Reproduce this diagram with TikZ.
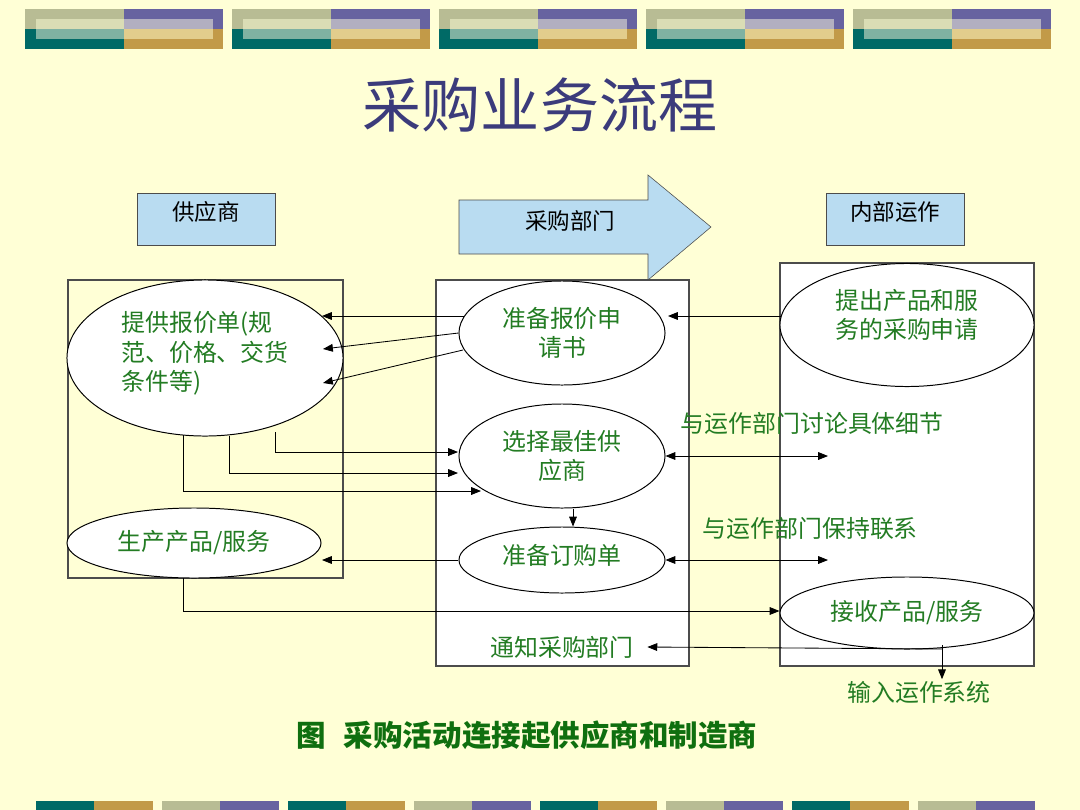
\documentclass[tikz,border=0pt]{standalone}
\usepackage{fontspec}
\setmainfont{Noto Sans CJK SC}
\usetikzlibrary{shapes.geometric,arrows.meta,calc}
\definecolor{bgyellow}{HTML}{FFFFD6}
\definecolor{headblue}{HTML}{B9DCF1}
\definecolor{txtgreen}{HTML}{237C23}
\definecolor{capgreen}{HTML}{0F6F0F}
\definecolor{titleblue}{HTML}{3B3B7B}
\definecolor{olivea}{HTML}{B8BC94}
\definecolor{oliveb}{HTML}{DADDB5}
\definecolor{purplea}{HTML}{6763A0}
\definecolor{purpleb}{HTML}{B2AFC0}
\definecolor{teala}{HTML}{006A66}
\definecolor{tealb}{HTML}{7FB2A2}
\definecolor{golda}{HTML}{C29A48}
\definecolor{goldb}{HTML}{E2CD8C}
\begin{document}
\begin{tikzpicture}[x=0.025cm, y=-0.025cm,
  head/.style={draw=black!70, fill=headblue, minimum width=3.45cm, minimum height=1.3cm, text depth=12pt, font=\fontsize{16pt}{19pt}\selectfont},
  ell/.style={ellipse, draw, line width=0.7pt, fill=white, inner sep=0pt, align=center, text=txtgreen, font=\fontsize{17pt}{21pt}\selectfont},
  note/.style={text=txtgreen, inner sep=1pt, font=\fontsize{17pt}{21pt}\selectfont},
  lane/.style={draw=black!70, line width=0.8pt},
  arr/.style={-{Triangle[length=7pt,width=5.5pt]}, line width=0.6pt},
  both/.style={{Triangle[length=7pt,width=5.5pt]}-{Triangle[length=7pt,width=5.5pt]}, line width=0.6pt}
]
  \fill[bgyellow] (0,0) rectangle (1080,810);
  \foreach \x in {25,232,439,646,853} {
    \fill[olivea] (\x,9) rectangle (\x+99,29);
    \fill[purplea] (\x+99,9) rectangle (\x+198,29);
    \fill[teala] (\x,29) rectangle (\x+99,49);
    \fill[golda] (\x+99,29) rectangle (\x+198,49);
    \fill[oliveb] (\x+11,19) rectangle (\x+99,29);
    \fill[purpleb] (\x+99,19) rectangle (\x+188,29);
    \fill[tealb] (\x+11,29) rectangle (\x+99,39);
    \fill[goldb] (\x+99,29) rectangle (\x+188,39);
  }
  \foreach \x/\ca/\cb in {36/teala/golda,162/olivea/purplea,288/teala/golda,414/olivea/purplea,540/teala/golda,666/olivea/purplea,792/teala/golda,918/olivea/purplea} {
    \fill[\ca] (\x,801) rectangle (\x+58,810);
    \fill[\cb] (\x+58,801) rectangle (\x+117,810);
  }

  \node[text=titleblue, font=\fontsize{42pt}{48pt}\selectfont] (title) at (540,105) {采购业务流程};

  \node[head] (supplier) at (206,219) {供应商};
  \node[head] (internal) at (895,219) {内部运作};
  \draw[draw=black!70, fill=headblue] (459,200) -- (648,200) -- (648,175) -- (711,227) -- (648,280) -- (648,254) -- (459,254) -- cycle;
  \node[font=\fontsize{16pt}{19pt}\selectfont] (dept) at (570,221) {采购部门};

  \draw[lane] (68,280) rectangle (343,578);
  \draw[lane, fill=white] (436,280) rectangle (689,666);
  \draw[lane, fill=white] (780,263) rectangle (1034,666);

  \node[ell, align=left, text depth=10pt, minimum width=6.9cm, minimum height=3.9cm] (quote) at (205,358) {提供报价单(规\\范、价格、交货\\条件等)};
  \node[ell, minimum width=6.35cm, minimum height=1.75cm] (produce) at (194,543) {生产产品/服务};
  \node[ell, minimum width=5.15cm, minimum height=2.6cm] (req) at (562,333) {准备报价申\\请书};
  \node[ell, minimum width=5.15cm, minimum height=2.6cm] (select) at (562,456) {选择最佳供\\应商};
  \node[ell, text depth=8pt, minimum width=5.15cm, minimum height=1.65cm] (order) at (562,560) {准备订购单};
  \node[ell, text depth=16pt, minimum width=6.35cm, minimum height=3.075cm] (request) at (907,325) {提出产品和服\\务的采购申请};
  \node[ell, minimum width=6.35cm, minimum height=1.8cm] (receive) at (907,613) {接收产品/服务};

  \node[note, anchor=west] (discuss) at (679,423) {与运作部门讨论具体细节};
  \node[note, anchor=west] (contact) at (701,528) {与运作部门保持联系};
  \node[note] (notify) at (562,647) {通知采购部门};
  \node[note] (input) at (919,692) {输入运作系统};
  \node[text=capgreen, font=\bfseries\fontsize{21pt}{25pt}\selectfont] (caption) at (527,735) {图\hspace{0.6em}采购活动连接起供应商和制造商};

  \coordinate (talk) at (828,456);
  \coordinate (keep) at (828,560);
  \coordinate (turn) at (942,649);

  \draw[arr] ($(req.center)+(-98,-17)$) -- ($(quote.center)+(117,-42)$);
  \draw[arr] (req.west) -- ($(quote.center)+(118,-9)$);
  \draw[arr] ($(req.center)+(-99,17)$) -- ($(quote.center)+(118,25)$);
  \draw[arr] ($(request.center)+(-126,-9)$) -- ($(req.center)+(106,-17)$);
  \draw[arr] ($(quote.center)+(70,74)$) |- ($(select.center)+(-104,-4)$);
  \draw[arr] ($(quote.center)+(24,78)$) |- ($(select.center)+(-104,17)$);
  \draw[arr] ($(quote.center)+(-22,77)$) |- ($(select.center)+(-81,35)$);
  \draw[arr] ($(select.south)+(11,0)$) -- ($(order.north)+(11,0)$);
  \draw[arr] (order.west) -- ($(produce.center)+(128,17)$);
  \draw[both] (select.east) -- (talk);
  \draw[both] (order.east) -- (keep);
  \draw[arr] ($(produce.center)+(-11,35)$) |- ($(receive.west)+(0,-2)$);
  \draw[arr] ($(turn)+(0,-4)$) -- (turn |- input.north);
  \draw[arr] (turn) -- ($(notify.east)+(12,0)$);
\end{tikzpicture}
\end{document}
